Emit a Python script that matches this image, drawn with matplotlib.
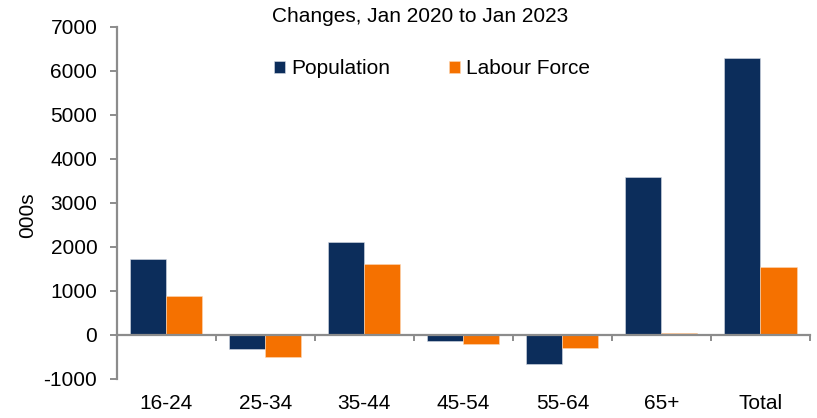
import matplotlib
matplotlib.use("Agg")
import matplotlib.pyplot as plt
import numpy as np

plt.rcParams['font.family'] = ['Liberation Sans', 'DejaVu Sans']

categories = ["16-24", "25-34", "35-44", "45-54", "55-64", "65+", "Total"]
population = [1720, -325, 2105, -150, -665, 3590, 6295]
labour_force = [885, -500, 1600, -205, -310, 30, 1530]
series_names = ["Population", "Labour Force"]
yticks = [-1000, 0, 1000, 2000, 3000, 4000, 5000, 6000, 7000]

navy = "#0C2D5B"
orange = "#F57100"
grey = "#8C8C8C"
fs = 15

fig = plt.figure(figsize=(8.17, 4.18), dpi=100)
ax = fig.add_axes([116.7 / 817, 1 - 378.7 / 418, (810 - 116.7) / 817, (378.7 - 26.7) / 418])

x = np.arange(len(categories))
w = 0.364
ax.bar(x - w / 2, population, width=w, color=navy, edgecolor="#d8dde6", linewidth=0.4,
       label=series_names[0], zorder=2)
ax.bar(x + w / 2, labour_force, width=w, color=orange, edgecolor="#fcd9b8", linewidth=0.4,
       label=series_names[1], zorder=2)

ax.set_xlim(-0.5, len(categories) - 0.5)
ax.set_ylim(-1000, 7000)
ax.set_yticks(yticks)
ax.set_yticklabels([str(v) for v in yticks], fontsize=fs)

# horizontal axis runs along zero; category labels sit below the plot
ax.spines['bottom'].set_position(('data', 0))
ax.spines['bottom'].set_color(grey)
ax.spines['bottom'].set_linewidth(1.6)
ax.spines['left'].set_color(grey)
ax.spines['left'].set_linewidth(1.6)
ax.spines['top'].set_visible(False)
ax.spines['right'].set_visible(False)
ax.spines['bottom'].set_zorder(3)

ax.set_xticks(x)
ax.set_xticklabels(categories, fontsize=fs)
ax.tick_params(axis='x', which='major', length=0, pad=43)
ax.set_xticks(np.arange(len(categories) + 1) - 0.5, minor=True)
ax.tick_params(axis='x', which='minor', length=4.5, width=1.4, color=grey, direction='out')
ax.tick_params(axis='y', length=5, width=1.4, color=grey, direction='out', pad=9)

ax.set_ylabel("000s", fontsize=fs)
ax.yaxis.set_label_coords(-0.115, 0.465)

fig.text(420 / 817, 1 - 16 / 418, "Changes, Jan 2020 to Jan 2023", ha='center', va='center', fontsize=fs)

ax.legend(loc='center', bbox_to_anchor=((432 - 116.7) / (810 - 116.7), (378.7 - 69) / (378.7 - 26.7)),
          ncol=2, frameon=False, fontsize=fs, handlelength=0.55, handleheight=0.55,
          handletextpad=0.3, columnspacing=2.8)

fig.savefig("out.png", dpi=100)
